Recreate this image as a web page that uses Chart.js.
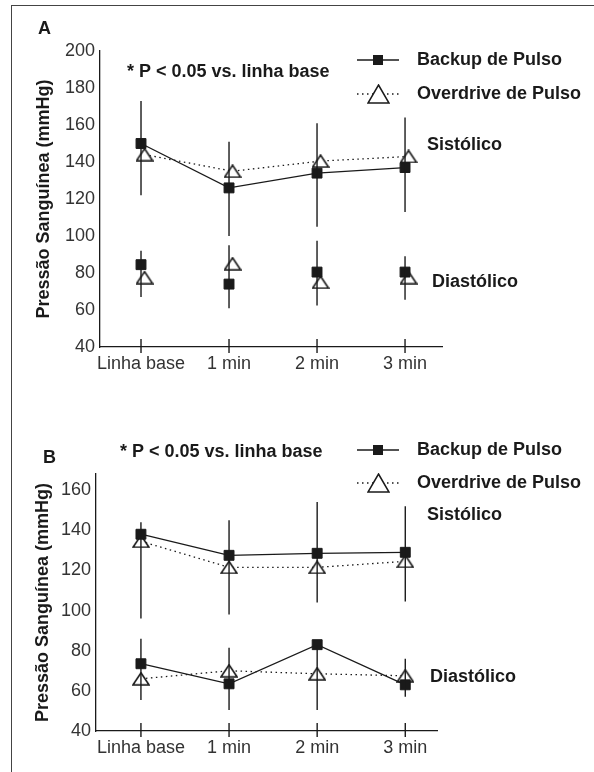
<!DOCTYPE html>
<html>
<head>
<meta charset="utf-8">
<script src="https://cdn.jsdelivr.net/npm/chart.js@4.4.1/dist/chart.umd.min.js"></script>
<style>
  html, body { margin: 0; padding: 0; background: #fff; }
  body { width: 594px; height: 772px; position: relative; overflow: hidden; }
  #frame { position: absolute; left: 11px; top: 5px; width: 620px; height: 800px;
           border-top: 1px solid #444; border-left: 1px solid #444; }
  canvas { position: absolute; left: 0; }
  #chartA { top: 0; }
  #chartB { top: 390px; }
</style>
</head>
<body>
<div id="frame"></div>
<canvas id="chartA" width="594" height="390"></canvas>
<canvas id="chartB" width="594" height="382"></canvas>
<script>
// data
const categories = ['Linha base', '1 min', '2 min', '3 min'];
const seriesNames = ['Backup de Pulso', 'Overdrive de Pulso'];
const yTicksA = [40, 60, 80, 100, 120, 140, 160, 180, 200];
const yTicksB = [40, 60, 80, 100, 120, 140, 160];

// Painel A
const aBackupSis = [150, 126, 134, 137];
const aOverSis = [144, 135, 140.5, 143];
const aBackupDia = [84.5, 74, 80.5, 80.5];
const aOverDia = [77.5, 85, 75, 77.5];
const aSisLow = [122, 100, 105, 113];
const aSisHigh = [173, 151, 161, 164];
const aDiaLow = [67, 61, 62.5, 65.5];
const aDiaHigh = [92, 95, 97.5, 89];

// Painel B
const bBackupSis = [138, 127.5, 128.5, 129];
const bOverSis = [134.5, 121.5, 121.5, 124.5];
const bBackupDia = [73.5, 63.5, 83, 63];
const bOverDia = [66, 70, 68.5, 67.5];
const bSisLow = [96, 98, 104, 104.5];
const bSisHigh = [144, 145, 154, 152];
const bDiaLow = [55.5, 50.5, 50.5, 57];
const bDiaHigh = [86, 81.5, 82.5, 76];

const FONT = '"Liberation Sans", Arial, Helvetica, sans-serif';
const INK = '#1a1a1a';
const noteText = '* P < 0.05 vs. linha base';

// open triangle used as point style (a bit flatter than the built-in one)
function triangleImage(w, h, lw) {
    const c = document.createElement('canvas');
    c.width = w;
    c.height = h;
    const g = c.getContext('2d');
    g.beginPath();
    g.moveTo(w / 2, 1);
    g.lineTo(w - 1, h - 1);
    g.lineTo(1, h - 1);
    g.closePath();
    g.fillStyle = '#fff';
    g.fill();
    g.strokeStyle = INK;
    g.lineWidth = lw;
    g.stroke();
    return c;
}
const triSmall = triangleImage(18, 14, 1.6);
const triBig = triangleImage(23, 20, 1.5);

function pts(values, off) {
    return values.map((v, i) => ({ x: i + off, y: v }));
}

// vertical error bars and the short tick marks crossing the x axis
const errorBars = {
    id: 'errorBars',
    afterDatasetsDraw(chart, args, opts) {
        const { ctx, scales: { x, y } } = chart;
        ctx.save();
        ctx.strokeStyle = INK;
        ctx.lineWidth = 1.4;
        opts.bars.forEach(b => {
            b.low.forEach((lo, i) => {
                const px = x.getPixelForValue(i);
                ctx.beginPath();
                ctx.moveTo(px, y.getPixelForValue(lo));
                ctx.lineTo(px, y.getPixelForValue(b.high[i]));
                ctx.stroke();
            });
        });
        categories.forEach((c, i) => {
            const px = x.getPixelForValue(i);
            ctx.beginPath();
            ctx.moveTo(px, y.bottom - 8);
            ctx.lineTo(px, y.bottom + 6);
            ctx.stroke();
        });
        ctx.restore();
    }
};

// panel letter, note, legend and the Sistólico / Diastólico labels
const annotations = {
    id: 'annotations',
    afterDraw(chart, args, o) {
        const ctx = chart.ctx;
        ctx.save();
        ctx.fillStyle = INK;
        ctx.font = 'bold 18px ' + FONT;
        ctx.textBaseline = 'middle';
        ctx.textAlign = 'left';
        ctx.fillText(o.letter, o.letterPos[0], o.letterPos[1]);
        ctx.fillText(noteText, o.notePos[0], o.notePos[1]);
        ctx.fillText('Sistólico', o.sisPos[0], o.sisPos[1]);
        ctx.fillText('Diastólico', o.diaPos[0], o.diaPos[1]);

        const [lx, ly] = o.legendPos;
        const ly2 = ly + o.rowGap;
        ctx.strokeStyle = INK;
        ctx.lineWidth = 1.3;
        ctx.beginPath();
        ctx.moveTo(lx, ly);
        ctx.lineTo(lx + 42, ly);
        ctx.stroke();
        ctx.fillRect(lx + 16, ly - 5, 10, 10);
        ctx.setLineDash([1.5, 3.5]);
        ctx.beginPath();
        ctx.moveTo(lx, ly2);
        ctx.lineTo(lx + 42, ly2);
        ctx.stroke();
        ctx.setLineDash([]);
        ctx.drawImage(triBig, Math.round(lx + 21 - triBig.width / 2), Math.round(ly2 - triBig.height / 2));
        ctx.fillText(seriesNames[0], lx + 60, ly);
        ctx.fillText(seriesNames[1], lx + 60, ly2);
        ctx.restore();
    }
};

function squareSet(values, showLine) {
    return {
        label: seriesNames[0],
        data: pts(values, 0),
        showLine: showLine,
        borderColor: INK,
        borderWidth: 1.3,
        backgroundColor: INK,
        pointStyle: 'rect',
        pointRadius: 7,
        pointBorderWidth: 1,
        clip: false
    };
}

function triangleSet(values, showLine, off) {
    return {
        label: seriesNames[1],
        data: pts(values, off),
        showLine: showLine,
        borderColor: INK,
        borderWidth: 1.3,
        borderDash: [1.5, 3.5],
        backgroundColor: '#fff',
        pointStyle: triSmall,
        pointRadius: 8,
        clip: false
    };
}

function makeChart(id, cfg) {
    return new Chart(document.getElementById(id), {
        type: 'line',
        data: { datasets: cfg.datasets },
        options: {
            responsive: false,
            animation: false,
            devicePixelRatio: 1,
            layout: { padding: cfg.padding },
            plugins: {
                legend: { display: false },
                tooltip: { enabled: false },
                errorBars: { bars: cfg.bars },
                annotations: cfg.notes
            },
            scales: {
                x: {
                    type: 'linear',
                    min: cfg.xMin,
                    max: cfg.xMax,
                    afterBuildTicks: s => { s.ticks = categories.map((c, i) => ({ value: i })); },
                    afterFit: s => { s.height = cfg.xHeight; },
                    ticks: {
                        callback: (v, i) => categories[i],
                        font: { family: FONT, size: 18 },
                        color: '#333',
                        padding: 6,
                        autoSkip: false,
                        maxRotation: 0
                    },
                    grid: { display: false, drawTicks: false },
                    border: { color: INK, width: 1.3 }
                },
                y: {
                    type: 'linear',
                    min: cfg.yMin,
                    max: cfg.yMax,
                    afterBuildTicks: s => { s.ticks = cfg.yTicks.map(v => ({ value: v })); },
                    afterFit: s => { s.width = cfg.yWidth; },
                    ticks: {
                        font: { family: FONT, size: 18 },
                        color: '#333',
                        padding: 5
                    },
                    grid: { display: false, drawTicks: false },
                    border: { color: INK, width: 1.3 },
                    title: {
                        display: true,
                        text: 'Pressão Sanguínea (mmHg)',
                        font: { family: FONT, size: 18, weight: 'bold' },
                        color: INK,
                        padding: { top: cfg.titlePad, bottom: 0 }
                    }
                }
            }
        },
        plugins: [errorBars, annotations]
    });
}

makeChart('chartA', {
    datasets: [
        squareSet(aBackupSis, true),
        squareSet(aBackupDia, false),
        triangleSet(aOverSis, true, 0.04),
        triangleSet(aOverDia, false, 0.04)
    ],
    bars: [
        { low: aSisLow, high: aSisHigh },
        { low: aDiaLow, high: aDiaHigh }
    ],
    notes: {
        letter: 'A', letterPos: [38, 29],
        notePos: [127, 72],
        legendPos: [357, 60], rowGap: 34,
        sisPos: [427, 145],
        diaPos: [432, 282]
    },
    padding: { left: 0, right: 152, top: 51, bottom: 0 },
    xHeight: 43, yWidth: 100, titlePad: 33,
    xMin: -0.466, xMax: 3.42,
    yMin: 40, yMax: 200, yTicks: yTicksA
});

makeChart('chartB', {
    datasets: [
        squareSet(bBackupSis, true),
        squareSet(bBackupDia, true),
        triangleSet(bOverSis, true, 0),
        triangleSet(bOverDia, true, 0)
    ],
    bars: [
        { low: bSisLow, high: bSisHigh },
        { low: bDiaLow, high: bDiaHigh }
    ],
    notes: {
        letter: 'B', letterPos: [43, 68],
        notePos: [120, 62],
        legendPos: [357, 60], rowGap: 33,
        sisPos: [427, 125],
        diaPos: [430, 287]
    },
    padding: { left: 0, right: 157, top: 84, bottom: 0 },
    xHeight: 41, yWidth: 96, titlePad: 32,
    xMin: -0.51, xMax: 3.36,
    yMin: 40, yMax: 168, yTicks: yTicksB
});
</script>
</body>
</html>
